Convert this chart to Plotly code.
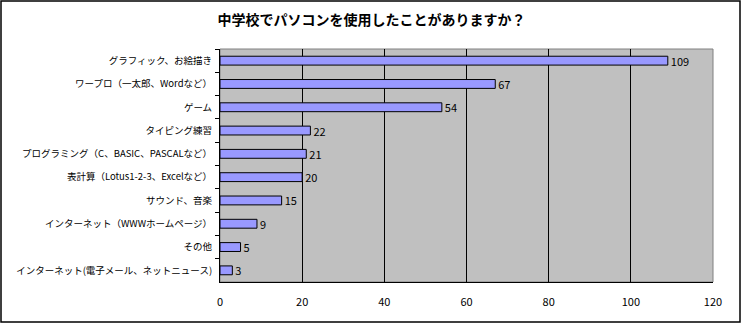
import plotly.graph_objects as go

# Survey: uses of a PC at junior high school
categories = [
    "グラフィック、お絵描き",
    "ワープロ（一太郎、Wordなど）",
    "ゲーム",
    "タイピング練習",
    "プログラミング（C、BASIC、PASCALなど）",
    "表計算（Lotus1-2-3、Excelなど）",
    "サウンド、音楽",
    "インターネット（WWWホームページ）",
    "その他",
    "インターネット(電子メール、ネットニュース)",
]
counts = [109, 67, 54, 22, 21, 20, 15, 9, 5, 3]
x_ticks = [0, 20, 40, 60, 80, 100, 120]

title_text = "中学校でパソコンを使用したことがありますか？"
font_family = "Noto Sans CJK JP, sans-serif"

fig = go.Figure(
    go.Bar(
        x=counts,
        y=categories,
        orientation="h",
        marker=dict(color="#9999FF", line=dict(color="#000000", width=1)),
        width=0.38,
        text=[str(v) for v in counts],
        textposition="outside",
        constraintext="none",
        cliponaxis=False,
        textfont=dict(family=font_family, size=11, color="#000000"),
    )
)

fig.update_layout(
    width=743,
    height=326,
    margin=dict(l=220, r=30, t=49, b=44, autoexpand=False),
    paper_bgcolor="#FFFFFF",
    plot_bgcolor="#C0C0C0",
    showlegend=False,
    font=dict(family=font_family, size=11, color="#000000"),
    title=dict(
        text=title_text,
        x=0.5,
        xanchor="center",
        y=1 - 20 / 326,
        yanchor="middle",
        font=dict(family=font_family, size=14, color="#000000", weight="bold"),
    ),
)

fig.update_xaxes(
    range=[0, 120],
    tickvals=x_ticks,
    ticktext=[str(v) for v in x_ticks],
    showgrid=True,
    gridcolor="#000000",
    gridwidth=1,
    zeroline=False,
    showline=True,
    linecolor="#000000",
    linewidth=1,
    ticks="",
    ticklabelstandoff=10,
    tickfont=dict(family=font_family, size=11),
    automargin=False,
    fixedrange=True,
)

fig.update_yaxes(
    autorange="reversed",
    showgrid=False,
    showline=True,
    linecolor="#000000",
    linewidth=1,
    ticks="outside",
    tickson="boundaries",
    ticklen=4,
    tickcolor="#000000",
    tickfont=dict(family=font_family, size=9.5),
    ticklabelstandoff=5,
    automargin=False,
    fixedrange=True,
)

# plot-area frame (grey) and outer chart border (black)
fig.add_shape(
    type="rect", xref="paper", yref="paper", x0=0, x1=1, y0=0, y1=1,
    line=dict(color="#808080", width=1), layer="below",
)
fig.add_shape(
    type="rect", xref="paper", yref="paper",
    x0=-219 / 493, x1=1 + 27 / 493, y0=-40 / 233, y1=1 + 48 / 233,
    line=dict(color="#000000", width=1.5), fillcolor="rgba(0,0,0,0)",
)

fig.write_html("out.html")
